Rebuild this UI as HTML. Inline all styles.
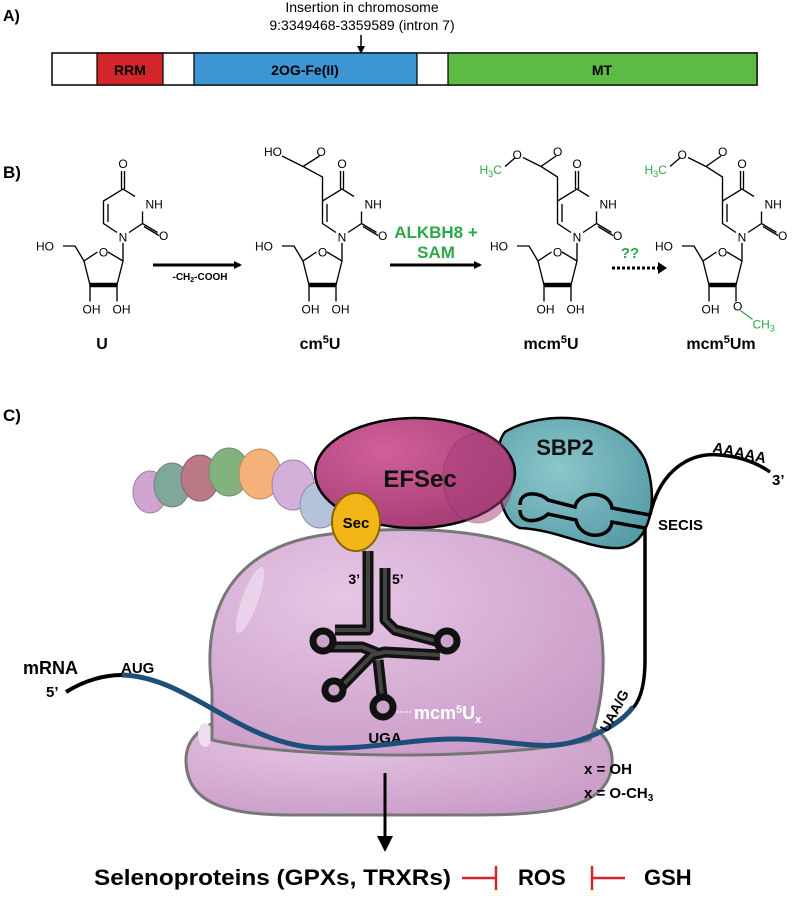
<!DOCTYPE html>
<html><head><meta charset="utf-8"><style>
html,body{margin:0;padding:0;background:#fff}
svg{display:block}
text{font-family:"Liberation Sans",sans-serif}
</style></head><body>
<svg width="800" height="902" viewBox="0 0 800 902" xmlns="http://www.w3.org/2000/svg">
<defs>
<marker id="ah" markerWidth="8" markerHeight="8" refX="6" refY="4" orient="auto" markerUnits="userSpaceOnUse"><path d="M0,0 L8,4 L0,8 z" fill="#000"/></marker>
<radialGradient id="rib" cx="0.35" cy="0.3" r="0.8"><stop offset="0" stop-color="#e6c6e4"/><stop offset="1" stop-color="#c99bc7"/></radialGradient>
<radialGradient id="ef" cx="0.35" cy="0.3" r="0.8"><stop offset="0" stop-color="#d0609a"/><stop offset="1" stop-color="#a33a72"/></radialGradient>
<radialGradient id="sb" cx="0.4" cy="0.4" r="0.8"><stop offset="0" stop-color="#8cc6cc"/><stop offset="1" stop-color="#4e96a0"/></radialGradient>
<g id="sugar" fill="none" stroke="#000" stroke-width="0.9">
<path d="M0,16 L-10,10 M-17,10 L-26,16 L-22,32 L-4,32 L0,16"/>
<path d="M-22,32 L-4,32" stroke-width="3"/>
<path d="M-26,16 L-32,6 L-40,6"/>
<path d="M-22,32 L-22,43 M-4,32 L-4,43"/>
<path d="M0,4 L0,16"/>
</g>
<g id="base" fill="none" stroke="#000" stroke-width="0.9">
<path d="M4,-3 L13,-9 L13,-17 M8,-27 L0,-32 L-13,-24 L-13,-9 L-4,-3"/>
<path d="M-10,-22 L-10,-10"/>
<path d="M13,-9 L23,-3 M14,-7 L24,-1"/>
<path d="M-1,-32 L-1,-44 M1,-32 L1,-44"/>
</g>
</defs>

<!-- Panel A -->
<text x="3" y="21" font-size="16" font-weight="bold">A)</text>
<text x="362" y="12" font-size="14" text-anchor="middle">Insertion in chromosome</text>
<text x="362" y="30" font-size="14" text-anchor="middle">9:3349468-3359589 (intron 7)</text>
<line x1="361" y1="35" x2="361" y2="52" stroke="#000" stroke-width="1.5" marker-end="url(#ah)"/>
<rect x="52" y="53" width="705" height="32" fill="#fff" stroke="#000" stroke-width="1.5"/>
<rect x="97" y="53" width="66" height="32" fill="#d3262b" stroke="#000" stroke-width="1.2"/>
<rect x="194" y="53" width="223" height="32" fill="#3d95d4" stroke="#000" stroke-width="1.2"/>
<rect x="448" y="53" width="309" height="32" fill="#5cbb45" stroke="#000" stroke-width="1.2"/>
<text x="130" y="75" font-size="14" font-weight="bold" text-anchor="middle">RRM</text>
<text x="305" y="75" font-size="14" font-weight="bold" text-anchor="middle">2OG-Fe(II)</text>
<text x="602" y="75" font-size="14" font-weight="bold" text-anchor="middle">MT</text>

<!-- Panel B -->
<text x="3" y="178" font-size="17" font-weight="bold">B)</text>
<g font-size="8">
<!-- U -->
<g transform="translate(123,237) scale(1.5)">
<use href="#base"/><use href="#sugar"/>
<text x="0" y="3" text-anchor="middle">N</text><text x="15" y="-19">NH</text><text x="24" y="2">O</text>
<text x="0" y="-46" text-anchor="middle">O</text><text x="-13" y="13" text-anchor="middle">O</text>
<text x="-58" y="9">HO</text><text x="-27" y="51">OH</text><text x="-7" y="51">OH</text>
</g>
<!-- cm5U -->
<g transform="translate(342,237) scale(1.5)">
<use href="#base"/><use href="#sugar"/>
<path d="M-13,-24 L-13,-40 L-26,-47 L-15,-54 M-26,-47 L-40,-54" fill="none" stroke="#000" stroke-width="0.9"/>
<text x="0" y="3" text-anchor="middle">N</text><text x="15" y="-19">NH</text><text x="24" y="2">O</text>
<text x="0" y="-46" text-anchor="middle">O</text><text x="-13" y="13" text-anchor="middle">O</text>
<text x="-17" y="-54">O</text><text x="-52" y="-54">HO</text>
<text x="-58" y="9">HO</text><text x="-27" y="51">OH</text><text x="-7" y="51">OH</text>
</g>
<!-- mcm5U -->
<g transform="translate(577,237) scale(1.5)">
<use href="#base"/><use href="#sugar"/>
<path d="M-13,-24 L-13,-40 L-24,-47 L-14,-54 M-24,-47 L-36,-53 M-41,-53 L-48,-47" fill="none" stroke="#000" stroke-width="0.9"/>
<text x="0" y="3" text-anchor="middle">N</text><text x="15" y="-19">NH</text><text x="24" y="2">O</text>
<text x="0" y="-46" text-anchor="middle">O</text><text x="-13" y="13" text-anchor="middle">O</text>
<text x="-16" y="-54">O</text><text x="-43" y="-52">O</text>
<text x="-65" y="-42" fill="#2aa84a">H<tspan font-size="6" dy="2">3</tspan><tspan dy="-2">C</tspan></text>
<text x="-58" y="9">HO</text><text x="-27" y="51">OH</text><text x="-7" y="51">OH</text>
</g>
<!-- mcm5Um -->
<g transform="translate(742,237) scale(1.5)">
<use href="#base"/><use href="#sugar"/>
<path d="M-13,-24 L-13,-40 L-24,-47 L-14,-54 M-24,-47 L-36,-53 M-41,-53 L-48,-47" fill="none" stroke="#000" stroke-width="0.9"/>
<text x="0" y="3" text-anchor="middle">N</text><text x="15" y="-19">NH</text><text x="24" y="2">O</text>
<text x="0" y="-46" text-anchor="middle">O</text><text x="-13" y="13" text-anchor="middle">O</text>
<text x="-16" y="-54">O</text><text x="-43" y="-52">O</text>
<text x="-65" y="-42" fill="#2aa84a">H<tspan font-size="6" dy="2">3</tspan><tspan dy="-2">C</tspan></text>
<path d="M-1,49 L7,55" stroke="#2aa84a" stroke-width="0.9"/>
<text x="-58" y="9">HO</text><text x="-27" y="51">OH</text><text x="-6" y="49">O</text>
<text x="7" y="61" fill="#2aa84a">CH<tspan font-size="6" dy="2">3</tspan></text>
</g>
</g>
<line x1="153" y1="265" x2="240" y2="265" stroke="#000" stroke-width="3" marker-end="url(#ah)"/>
<text x="200" y="280" font-size="10" font-weight="bold" text-anchor="middle">-CH<tspan font-size="7" dy="2">2</tspan><tspan dy="-2">-COOH</tspan></text>
<line x1="390" y1="265" x2="480" y2="265" stroke="#000" stroke-width="3" marker-end="url(#ah)"/>
<text x="436" y="238" font-size="17" font-weight="bold" fill="#2aa84a" text-anchor="middle">ALKBH8 +</text>
<text x="436" y="258" font-size="17" font-weight="bold" fill="#2aa84a" text-anchor="middle">SAM</text>
<line x1="612" y1="268" x2="660" y2="268" stroke="#000" stroke-width="3" stroke-dasharray="3,2"/>
<path d="M658,262 L667,268 L658,274 z"/>
<text x="630" y="258" font-size="15" font-weight="bold" fill="#2aa84a" text-anchor="middle">??</text>
<g font-size="16" font-weight="bold" text-anchor="middle">
<text x="102" y="349">U</text>
<text x="320" y="349">cm<tspan font-size="11" dy="-6">5</tspan><tspan dy="6">U</tspan></text>
<text x="551" y="349">mcm<tspan font-size="11" dy="-6">5</tspan><tspan dy="6">U</tspan></text>
<text x="721" y="349">mcm<tspan font-size="11" dy="-6">5</tspan><tspan dy="6">Um</tspan></text>
</g>

<!-- Panel C -->
<text x="3" y="421" font-size="17" font-weight="bold">C)</text>
<!-- beads -->
<ellipse cx="150" cy="492" rx="17" ry="21" fill="#cfa4d0" stroke="#9a80a0"/>
<ellipse cx="172" cy="485" rx="18" ry="22" fill="#7fa89a" stroke="#70807a"/>
<ellipse cx="200" cy="478" rx="19" ry="23" fill="#b97a86" stroke="#8a6070"/>
<ellipse cx="229" cy="472" rx="20" ry="24" fill="#84b27e" stroke="#708a70"/>
<ellipse cx="260" cy="474" rx="21" ry="25" fill="#f4b27a" stroke="#c08a60"/>
<ellipse cx="293" cy="485" rx="21" ry="25" fill="#d3b0da" stroke="#9a85a5"/>
<ellipse cx="320" cy="505" rx="20" ry="23" fill="#b4c2dc" stroke="#8893aa"/>
<!-- ribosome -->
<path d="M186,760 C186,720 240,708 320,708 L500,708 C580,708 615,730 612,765 C608,805 560,815 480,815 L290,815 C220,815 186,800 186,760 Z" fill="url(#rib)" stroke="#777" stroke-width="3"/>
<ellipse cx="205" cy="735" rx="7" ry="12" fill="#f0dcf0"/>
<path d="M212,690 C200,600 240,545 330,534 C420,524 520,528 575,575 C615,615 605,700 590,740 C500,760 300,760 212,740 Z" fill="url(#rib)" stroke="#777" stroke-width="3"/>
<ellipse cx="250" cy="600" rx="8" ry="35" fill="#ead3ea" transform="rotate(20 250 600)"/>
<!-- SBP2 -->
<path d="M505,432 C540,410 620,410 645,460 C660,500 650,545 620,548 C590,550 560,530 520,528 C495,520 490,450 505,432 Z" fill="url(#sb)" stroke="#000" stroke-width="2.5"/>
<text x="565" y="455" font-size="22" font-weight="bold" text-anchor="middle" fill="#111">SBP2</text>
<!-- EFSec -->
<ellipse cx="415" cy="473" rx="100" ry="55" fill="url(#ef)" stroke="#000" stroke-width="2.5"/>
<ellipse cx="478" cy="478" rx="35" ry="45" fill="#a8407a" opacity="0.5" stroke="#8a2a60"/>
<text x="420" y="487" font-size="24" font-weight="bold" text-anchor="middle" fill="#111">EFSec</text>
<!-- SECIS hairpin -->
<g fill="none" stroke="#000" stroke-width="3.5">
<path d="M520,505 C520,490 540,492 548,500 L575,507 C578,490 610,490 612,508 L650,515"/>
<path d="M520,510 C520,525 540,522 548,514 L576,520 C580,540 610,540 612,522 L645,528"/>
<path d="M650,515 C660,470 690,452 720,455 C745,457 760,465 770,472"/>
<path d="M645,528 L645,660 C645,685 640,700 633,708"/>
</g>
<text x="658" y="530" font-size="15" font-weight="bold">SECIS</text>
<text x="712" y="452" font-size="15" font-weight="bold" transform="rotate(12 712 452)">AAAAA</text>
<text x="772" y="485" font-size="15" font-weight="bold">3’</text>
<!-- Sec -->
<ellipse cx="356" cy="522" rx="24" ry="29" fill="#f2b619" stroke="#8a6400" stroke-width="2"/>
<text x="356" y="528" font-size="15" font-weight="bold" text-anchor="middle">Sec</text>
<!-- tRNA -->
<g fill="none" stroke-linejoin="round" stroke-linecap="butt">
<g stroke="#111" stroke-width="11">
<path d="M368,551 L368,630 L335,630"/>
<path d="M385,568 L385,620 L395,630 L440,642"/>
<path d="M327,647 L362,647 L375,652 L336,692"/>
<path d="M372,655 L385,652 L440,655"/>
<path d="M378,660 L383,705"/>
</g>
<g stroke="#444" stroke-width="4">
<path d="M368,551 L368,630 L335,630"/>
<path d="M385,568 L385,620 L395,630 L440,642"/>
<path d="M327,647 L362,647 L375,652 L336,692"/>
<path d="M372,655 L385,652 L440,655"/>
<path d="M378,660 L383,705"/>
</g>
</g>
<g fill="#c9a3c8" stroke="#111" stroke-width="7">
<circle cx="323" cy="641" r="10"/><circle cx="447" cy="641" r="10"/>
<circle cx="334" cy="690" r="9"/><circle cx="383" cy="707" r="10"/>
</g>
<text x="360" y="584" font-size="14" font-weight="bold" text-anchor="end">3’</text>
<text x="392" y="584" font-size="14" font-weight="bold">5’</text>
<line x1="397" y1="712" x2="412" y2="712" stroke="#fff" stroke-dasharray="2,1"/>
<text x="414" y="719" font-size="18" font-weight="bold" fill="#fff">mcm<tspan font-size="11" dy="-6">5</tspan><tspan dy="6">U</tspan><tspan font-size="11" dy="4">x</tspan></text>
<text x="385" y="743" font-size="15" font-weight="bold" text-anchor="middle">UGA</text>
<!-- mRNA -->
<path d="M66,692 C85,680 105,675 122,675" fill="none" stroke="#000" stroke-width="4"/>
<path d="M122,675 C190,677 240,745 320,748 C380,750 420,735 480,740 C530,744 550,750 580,740 C610,730 625,718 633,707" fill="none" stroke="#1d4f78" stroke-width="5"/>
<text x="23" y="674" font-size="18" font-weight="bold">mRNA</text>
<text x="46" y="697" font-size="15" font-weight="bold">5’</text>
<text x="121" y="673" font-size="15" font-weight="bold">AUG</text>
<text x="608" y="733" font-size="14" font-weight="bold" transform="rotate(-62 608 733)">UAA/G</text>
<text x="584" y="774" font-size="15" font-weight="bold">x = OH</text>
<text x="584" y="798" font-size="15" font-weight="bold">x = O-CH<tspan font-size="10" dy="3">3</tspan></text>
<!-- arrow down -->
<line x1="385" y1="773" x2="385" y2="838" stroke="#000" stroke-width="3"/>
<path d="M377,836 L385,852 L393,836 z"/>
<text x="94" y="885" font-size="22" font-weight="bold" textLength="357" lengthAdjust="spacingAndGlyphs">Selenoproteins (GPXs, TRXRs)</text>
<g stroke="#d3262b" stroke-width="2.5">
<line x1="462" y1="878" x2="496" y2="878"/><line x1="496" y1="866" x2="496" y2="890"/>
<line x1="592" y1="878" x2="625" y2="878"/><line x1="592" y1="866" x2="592" y2="890"/>
</g>
<text x="518" y="885" font-size="22" font-weight="bold">ROS</text>
<text x="644" y="885" font-size="22" font-weight="bold">GSH</text>
</svg>
</body></html>
